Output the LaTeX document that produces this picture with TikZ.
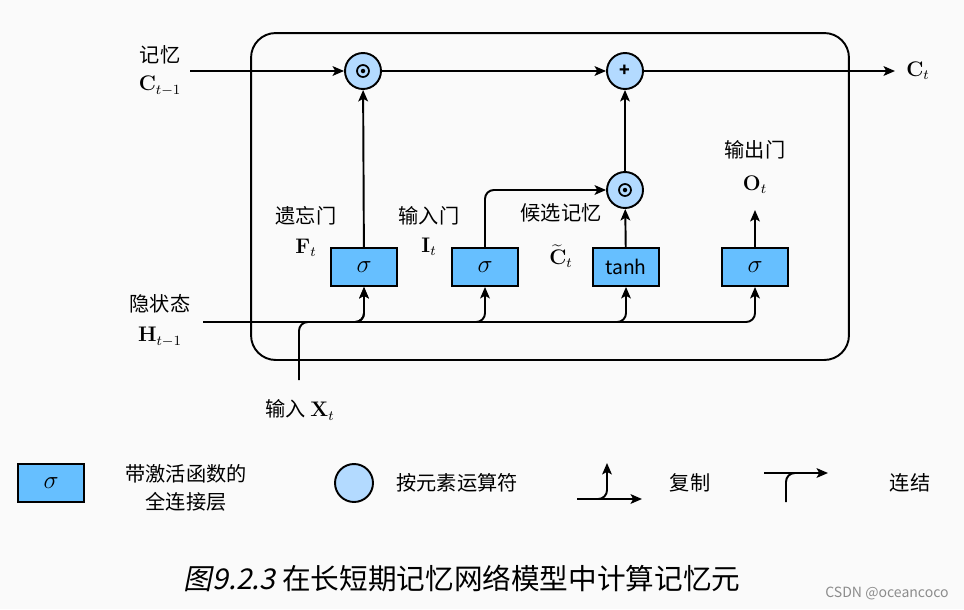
\documentclass[tikz,border=0pt]{standalone}
\usepackage[no-math]{fontspec}
\setmainfont{Noto Sans CJK SC}
\newfontfamily\cjkit[FakeSlant=0.2]{Noto Sans CJK SC}
\usetikzlibrary{arrows.meta}
\definecolor{boxblue}{HTML}{66BFFF}
\definecolor{opblue}{HTML}{B3DAFF}
\newcommand{\sig}{{\fontsize{13.5}{15}\selectfont$\sigma$}}
\begin{document}
\begin{tikzpicture}[x=0.02cm,y=-0.02cm,
  lw/.style={line width=1.1pt},
  arr/.style={lw,-{Stealth[length=6.5pt,width=5.5pt,inset=1.5pt]}},
  gbox/.style={draw,lw,fill=boxblue,minimum width=1.32cm,minimum height=0.76cm,inner sep=0pt,font=\fontsize{11}{13}\selectfont},
  op/.style={draw,lw,fill=opblue,circle,minimum size=0.72cm,inner sep=0pt},
  lab/.style={font=\fontsize{11.5}{14}\selectfont,inner sep=0pt},
  mlab/.style={font=\fontsize{12}{14}\selectfont,inner sep=0pt},
  rc/.style={rounded corners=5pt}]
\useasboundingbox (0,0) rectangle (964,609);
\fill[white!98!black] (0,0) rectangle (964,609);
% frame
\node[draw,lw,rounded corners=14pt,minimum width=11.96cm,minimum height=6.54cm] (frame) at (550,196.5) {};
% operators
\node[op] (m1) at (363,71) {};
\node[op] (add) at (625,71) {\fontsize{10}{11}\selectfont\bfseries +};
\node[op] (m2) at (625,190) {};
\foreach \n in {m1,m2}{
  \draw[line width=1pt] (\n) circle[radius=0.12cm];
  \fill (\n) circle[radius=0.045cm];
}
% gate boxes
\node[gbox] (f) at (364,267) {\sig};
\node[gbox] (i) at (485,267) {\sig};
\node[gbox] (g) at (626,267) {tanh};
\node[gbox] (o) at (755,267) {\sig};
% free ends
\coordinate (cin) at (190,71);
\coordinate (cout) at (895,71);
\coordinate (oout) at (755,210);
\coordinate (hin) at (203,322);
\coordinate (xin) at (299,380);
% connectors
\draw[arr] (cin) -- (m1);
\draw[arr] (m1) -- (add);
\draw[arr] (add) -- (cout);
\draw[arr] (f) -- (m1);
\draw[arr,rc] (i.north) |- (m2);
\draw[arr] (g) -- (m2);
\draw[arr] (m2) -- (add);
\draw[arr] (o) -- (oout);
\draw[arr,rc] (hin) -| (o.south);
\draw[arr,rc] (hin) -| (g.south);
\draw[arr,rc] (hin) -| (i.south);
\draw[arr,rc] (hin) -| (f.south);
\draw[arr,rc] (xin) |- (hin -| f.south) -- (f.south);
% labels
\node[lab] (l1) at (160,55) {记忆};
\node[mlab] (l1m) at (160,86) {$\mathbf{C}_{t-1}$};
\node[lab] (l2) at (160,304) {隐状态};
\node[mlab] (l2m) at (160,337) {$\mathbf{H}_{t-1}$};
\node[lab] (l3) at (306,216) {遗忘门};
\node[mlab] (l3m) at (306,248) {$\mathbf{F}_t$};
\node[lab] (l4) at (429,216) {输入门};
\node[mlab] (l4m) at (429,247) {$\mathbf{I}_t$};
\node[lab] (l5) at (561,213) {候选记忆};
\node[mlab] (l5m) at (561,256) {$\widetilde{\mathbf{C}}_t$};
\node[lab] (l6) at (755,150) {输出门};
\node[mlab] (l6m) at (755,185) {$\mathbf{O}_t$};
\node[lab] (l7) at (300,410) {输入\ \fontsize{12}{14}\selectfont$\mathbf{X}_t$};
\node[mlab] (l8) at (918,71) {$\mathbf{C}_t$};
% legend
\node[gbox] (lg1) at (51,483) {\sig};
\node[lab,align=center] (lg1t) at (186,488) {带激活函数的\\[2pt]全连接层};
\node[op,minimum size=0.76cm] (lg2) at (354,483) {};
\node[lab] (lg2t) at (457,483) {按元素运算符};
\coordinate (cpA) at (577,499);
\coordinate (cpB) at (642,499);
\coordinate (cpC) at (607,463);
\draw[arr] (cpA) -- (cpB);
\draw[arr,rc] (cpA) -| (cpC);
\node[lab] (lg3t) at (690,483) {复制};
\coordinate (cnA) at (786,502);
\coordinate (cnB) at (764,473);
\coordinate (cnC) at (828,473);
\coordinate (cnM) at (805,473);
\draw[arr] (cnB) -- (cnC);
\draw[lw,rc] (cnA) |- (cnM);
\node[lab] (lg4t) at (910,483) {连结};
% caption
\node[inner sep=0pt,font=\fontsize{16.3}{19}\selectfont] (cap) at (462,578) {{\cjkit 图9.2.3}\ 在长短期记忆网络模型中计算记忆元};
\node[inner sep=0pt,text=black!45,font=\fontsize{8}{10}\selectfont] (wm) at (887,593) {CSDN @oceancoco};
\end{tikzpicture}
\end{document}
